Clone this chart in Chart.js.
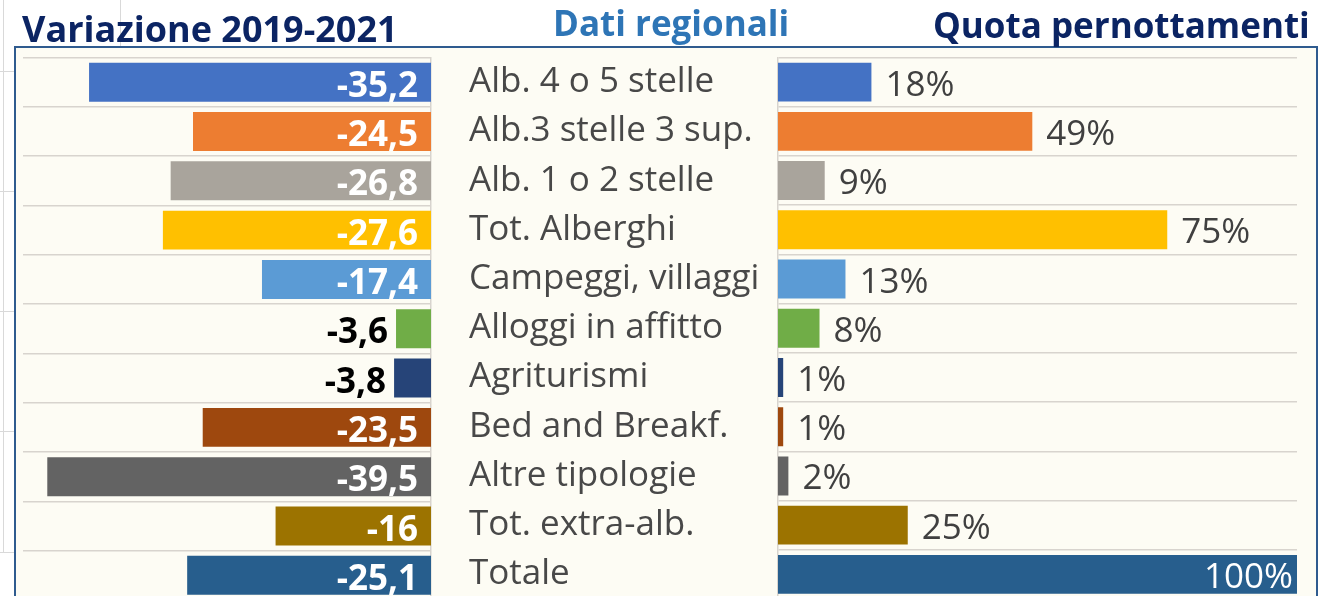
<!DOCTYPE html>
<html>
<head>
<meta charset="utf-8">
<script src="https://cdn.jsdelivr.net/npm/chart.js@4.4.1/dist/chart.umd.min.js"></script>
<style>
  html, body { margin: 0; padding: 0; width: 1319px; height: 596px; overflow: hidden; background: #fff; font-family: 'Open Sans', sans-serif; }
  #box { position: absolute; left: 14px; top: 46px; width: 1300px; height: 600px; background: #fdfcf4; border: 2px solid #2f5b8f; }
  .t { position: absolute; font-weight: bold; line-height: 1; white-space: nowrap; z-index: 3; }
  .cl { position: absolute; background: #d9d9d9; }
  canvas { position: absolute; top: 0; z-index: 2; }
</style>
</head>
<body>
<!-- griglia del foglio che si vede fuori dal riquadro -->
<div class="cl" style="left:3px;top:0;width:1px;height:552px"></div>
<div class="cl" style="left:120px;top:0;width:1px;height:46px"></div>
<div class="cl" style="left:0;top:71px;width:14px;height:1px"></div>
<div class="cl" style="left:0;top:191px;width:14px;height:1px"></div>
<div class="cl" style="left:0;top:311px;width:14px;height:1px"></div>
<div class="cl" style="left:0;top:431px;width:14px;height:1px"></div>
<div class="cl" style="left:0;top:552px;width:14px;height:1px"></div>

<div id="box"></div>
<div class="t" style="left:22px;top:11px;font-size:36px;color:#0b2463">Variazione 2019-2021</div>
<div class="t" style="left:553px;top:5px;font-size:35px;color:#2e75b6">Dati regionali</div>
<div class="t" style="left:933px;top:7px;font-size:35px;color:#0b2463">Quota pernottamenti</div>

<canvas id="left" width="445" height="620" style="left:0;width:445px;height:620px"></canvas>
<canvas id="right" width="860" height="620" style="left:460px;width:860px;height:620px"></canvas>

<script>
// categorie (dall'alto in basso)
const categories = ["Alb. 4 o 5 stelle", "Alb.3 stelle 3 sup.", "Alb. 1 o 2 stelle", "Tot. Alberghi",
  "Campeggi, villaggi", "Alloggi in affitto", "Agriturismi", "Bed and Breakf.",
  "Altre tipologie", "Tot. extra-alb.", "Totale"];
// variazione 2019-2021
const variazione = [-35.2, -24.5, -26.8, -27.6, -17.4, -3.6, -3.8, -23.5, -39.5, -16, -25.1];
// quota pernottamenti (%)
const quota = [18, 49, 9, 75, 13, 8, 1, 1, 2, 25, 100];
const barColors = ["#4472c4", "#ed7d31", "#a9a49c", "#ffc000", "#5b9bd5", "#70ad47",
  "#264478", "#9e480e", "#636363", "#9c7300", "#275e8d"];

const gridColor = "#d8d4ce";
const FONT = "'Open Sans', sans-serif";

// etichette dei valori sulle barre
const barLabels = {
  id: "barLabels",
  afterDatasetsDraw(chart, args, opts) {
    const ctx = chart.ctx;
    const meta = chart.getDatasetMeta(0);
    const values = chart.data.datasets[0].data;
    ctx.save();
    ctx.font = opts.font;
    ctx.textBaseline = "alphabetic";
    meta.data.forEach((bar, i) => {
      const text = opts.format(values[i]);
      const w = ctx.measureText(text).width;
      const y = bar.y + opts.dy;
      if (opts.side === "left") {
        const len = bar.base - bar.x;
        ctx.textAlign = "right";
        if (len >= w + 20) {
          ctx.fillStyle = "#ffffff";
          ctx.fillText(text, bar.base - 13, y);
        } else {
          ctx.fillStyle = "#000000";
          ctx.fillText(text, bar.x - 8, y);
        }
      } else {
        if (bar.x + 14 + w <= chart.width - 4) {
          ctx.textAlign = "left";
          ctx.fillStyle = "#404040";
          ctx.fillText(text, bar.x + 14, y);
        } else {
          ctx.textAlign = "right";
          ctx.fillStyle = "#ffffff";
          ctx.fillText(text, bar.x - 4, y);
        }
      }
    });
    ctx.restore();
  }
};

new Chart(document.getElementById("left"), {
  type: "bar",
  data: {
    labels: categories,
    datasets: [{ data: variazione, backgroundColor: barColors, categoryPercentage: 1, barPercentage: 0.79 }]
  },
  options: {
    indexAxis: "y",
    responsive: false,
    animation: false,
    layout: { padding: { left: 23, right: 14, top: 57.5, bottom: 20 } },
    plugins: {
      legend: { display: false },
      tooltip: { enabled: false },
      barLabels: { side: "left", font: "bold 35px " + FONT, dy: 14.5, format: v => String(v).replace(".", ",") }
    },
    scales: {
      x: { display: false, min: -42, max: 0 },
      y: {
        position: "right",
        afterFit: s => { s.width = 0; },
        ticks: { display: false },
        grid: { color: gridColor, lineWidth: 1.5, drawTicks: false, offset: true },
        border: { display: true, color: gridColor, width: 1.5 }
      }
    }
  },
  plugins: [barLabels]
});

new Chart(document.getElementById("right"), {
  type: "bar",
  data: {
    labels: categories,
    datasets: [{ data: quota, backgroundColor: barColors, categoryPercentage: 1, barPercentage: 0.79 }]
  },
  options: {
    indexAxis: "y",
    responsive: false,
    animation: false,
    layout: { padding: { left: 9, right: 23, top: 57.5, bottom: 20 } },
    plugins: {
      legend: { display: false },
      tooltip: { enabled: false },
      barLabels: { side: "right", font: "35px " + FONT, dy: 13.5, format: v => v + "%" }
    },
    scales: {
      x: { display: false, min: 0, max: 100 },
      y: {
        position: "left",
        afterFit: s => { s.width = 309; },
        ticks: { crossAlign: "far", autoSkip: false, padding: 0, color: "#484848", font: { family: FONT, size: 35 } },
        grid: { color: gridColor, lineWidth: 1.5, drawTicks: false, offset: true },
        border: { display: true, color: gridColor, width: 1.5 }
      }
    }
  },
  plugins: [barLabels]
});
</script>
</body>
</html>
